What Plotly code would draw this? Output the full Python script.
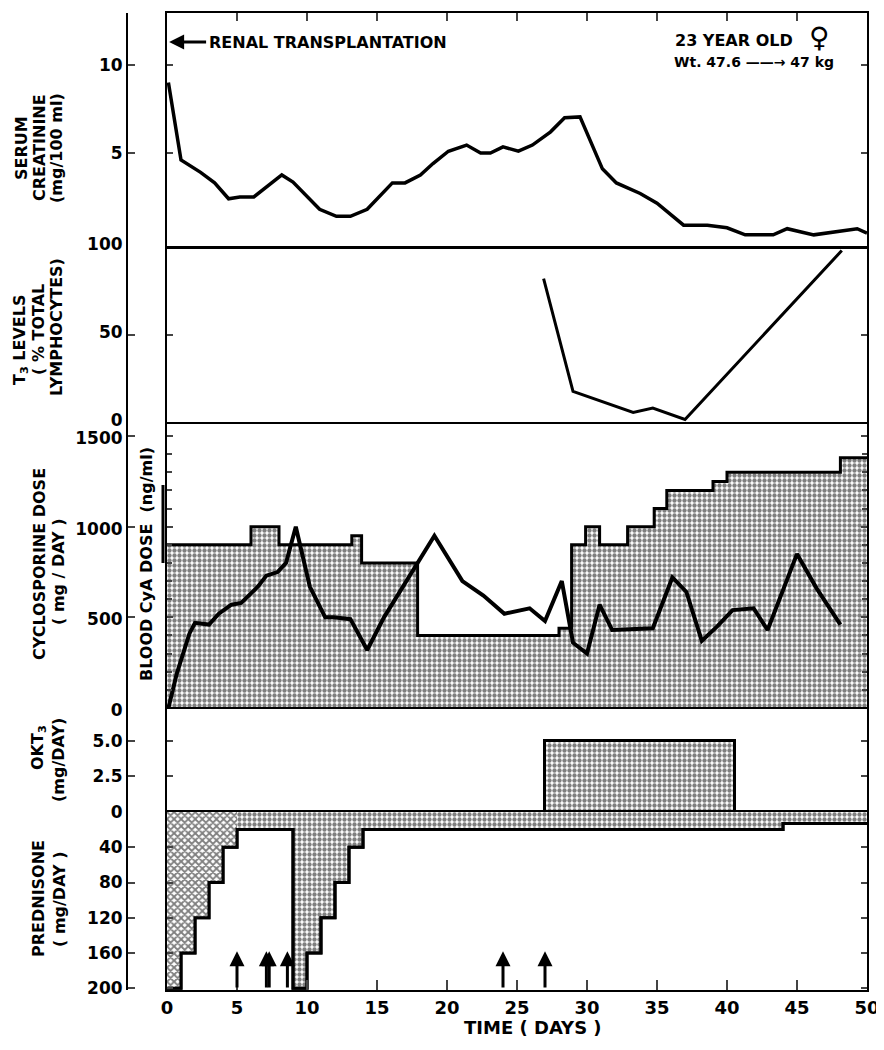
import plotly.graph_objects as go

# serum creatinine (mg/100 ml)
creat_days = [0.1, 1.0, 2.4, 3.4, 4.4, 5.2, 6.2, 8.2, 9.0, 10.9, 12.1, 13.1, 14.3, 16.1, 17.0, 18.1,
              19.0, 20.1, 21.4, 22.4, 23.1, 24.0, 25.1, 26.1, 27.4, 28.4, 29.5, 31.1, 32.1, 33.8,
              35.0, 36.9, 38.6, 40.0, 41.3, 43.3, 44.3, 46.2, 49.3, 50.0]
creat_vals = [9.0, 4.6, 3.9, 3.3, 2.4, 2.5, 2.5, 3.75, 3.35, 1.8, 1.4, 1.4, 1.8, 3.3, 3.3, 3.75,
              4.4, 5.1, 5.45, 5.0, 5.0, 5.35, 5.1, 5.45, 6.2, 7.0, 7.05, 4.1, 3.3, 2.7,
              2.15, 0.9, 0.9, 0.75, 0.35, 0.35, 0.7, 0.35, 0.7, 0.45]

# T3 levels (% total lymphocytes)
t3_days = [26.9, 29.0, 33.3, 34.7, 37.0, 48.2]
t3_vals = [82, 18, 6, 8.5, 2, 98]

# cyclosporine dose (mg/day), step changes
cya_days = [0, 6.0, 8.0, 13.2, 13.9, 17.9, 28.0, 28.9, 29.9, 30.9, 32.9, 34.8, 35.7, 39.0, 40.0, 48.1, 50]
cya_dose = [900, 1000, 900, 950, 800, 400, 440, 900, 1000, 900, 1000, 1100, 1200, 1250, 1300, 1380, 1380]

# blood CyA level (ng/ml)
blood_days = [0.1, 0.7, 1.6, 2.0, 3.0, 3.7, 4.6, 5.3, 6.5, 7.1, 7.9, 8.5, 9.2, 10.2, 11.3, 11.9,
              13.1, 14.3, 15.5, 17.8, 19.1, 21.1, 22.6, 24.1, 25.9, 27.0, 28.2, 29.0, 30.0, 30.9,
              31.8, 34.7, 36.1, 37.1, 38.2, 39.3, 40.4, 41.9, 42.9, 45.0, 46.4, 48.1]
blood_vals = [0, 190, 410, 470, 460, 520, 570, 580, 670, 730, 750, 800, 1000, 670, 500, 500,
              490, 320, 500, 790, 950, 700, 620, 520, 550, 480, 700, 360, 300, 570,
              430, 440, 720, 640, 370, 450, 540, 550, 430, 850, 660, 460]

# OKT3 course
okt3_start = 27.0
okt3_end = 40.6
okt3_dose = 5.0

# prednisone (mg/day), step changes
pred_days = [0, 1, 2, 3, 4, 5, 9, 10, 11, 12, 13, 14, 44, 50]
pred_dose = [200, 160, 120, 80, 40, 20, 200, 160, 120, 80, 40, 20, 13, 13]
hatch_end = 5  # first taper drawn with cross hatch

# rejection episodes (arrows)
arrow_days = [5.0, 7.1, 7.3, 8.6, 24.0, 27.0]

FONT = "DejaVu Sans"
W, H = 884, 1050
OFF = 8  # page body margin
ML, MR, MT, MB = 127 - OFF, 17 + OFF, 13 - OFF, 60 + OFF
PW, PH = W - ML - MR, H - MT - MB


def px_x(p):
    return (p - OFF - ML) / PW


def px_y(p):
    return (MT + PH - (p - OFF)) / PH


xdom = [px_x(167), 1.0]
edges = [13, 247, 423, 708, 812, 990]
ranges = [[-0.34, 12.95], [0, 100], [0, 1572], [0, 7.3], [202, 0]]
tickvals = [[5, 10], [0, 50, 100], [0, 500, 1000, 1500], [0, 2.5, 5], [40, 80, 120, 160, 200]]
ticktext = [["5", "10"], ["0", "50", "100"], ["0", "500", "1000", "1500"], ["0", "2.5", "5.0"],
            ["40", "80", "120", "160", "200"]]
labelshift = [0, -3, 2, 0, 0]
xline = [2, 1.2, 1.2, 1.2, 2]

fig = go.Figure()

dots = dict(shape=".", fgcolor="black", bgcolor="white", size=5, solidity=0.6)

fig.add_trace(go.Scatter(x=creat_days, y=creat_vals, mode="lines", xaxis="x", yaxis="y",
                         line=dict(color="black", width=3.5)))
fig.add_trace(go.Scatter(x=t3_days, y=t3_vals, mode="lines", xaxis="x2", yaxis="y2",
                         line=dict(color="black", width=3)))
fig.add_trace(go.Scatter(x=cya_days, y=cya_dose, mode="lines", xaxis="x3", yaxis="y3",
                         line=dict(color="black", width=3, shape="hv"), fill="tozeroy",
                         fillcolor="white", fillpattern=dots))
fig.add_trace(go.Scatter(x=blood_days, y=blood_vals, mode="lines", xaxis="x3", yaxis="y3",
                         line=dict(color="black", width=4)))
fig.add_trace(go.Bar(x=[(okt3_start + okt3_end) / 2], y=[okt3_dose], width=[okt3_end - okt3_start],
                     xaxis="x4", yaxis="y4",
                     marker=dict(color="white", line=dict(color="black", width=3), pattern=dots)))
fig.add_trace(go.Scatter(x=pred_days, y=pred_dose, mode="lines", xaxis="x5", yaxis="y5",
                         line=dict(color="black", width=3, shape="hv"), fill="tozeroy",
                         fillcolor="white", fillpattern=dots))
hx = [d for d in pred_days if d <= hatch_end]
hy = pred_dose[:len(hx) - 1] + [pred_dose[len(hx) - 2]]
fig.add_trace(go.Scatter(x=hx, y=hy, mode="lines", xaxis="x5", yaxis="y5",
                         line=dict(width=0, shape="hv"), fill="tozeroy", fillcolor="white",
                         fillpattern=dict(shape="x", fgcolor="black", bgcolor="white", size=5, solidity=0.6)))
fig.add_trace(go.Scatter(x=pred_days, y=pred_dose, mode="lines", xaxis="x5", yaxis="y5",
                         line=dict(color="black", width=3, shape="hv")))

layout = dict(width=W, height=H, margin=dict(l=ML, r=MR, t=MT, b=MB, autoexpand=False),
              showlegend=False, plot_bgcolor="white", paper_bgcolor="white", bargap=0,
              font=dict(family=FONT, color="black"))

for i in range(5):
    n = "" if i == 0 else str(i + 1)
    dom = [px_y(edges[i + 1]), px_y(edges[i])]
    xa = dict(domain=xdom, range=[0, 50], anchor="y" + n, showline=True, linewidth=xline[i],
              linecolor="black", mirror=True, showgrid=False, zeroline=False,
              showticklabels=False, ticks="", automargin=False)
    if i == 0:
        xa.update(side="top", ticks="inside", ticklen=8, tickwidth=2, tickvals=list(range(5, 50, 5)))
    if i == 4:
        xa.update(ticks="inside", ticklen=10, tickwidth=2, tickvals=list(range(0, 55, 5)),
                  showticklabels=True, tickfont=dict(size=18, family=FONT, weight="bold"))
    layout["xaxis" + n] = xa
    ya = dict(domain=dom, range=ranges[i], anchor="x" + n, showline=True, linewidth=2,
              linecolor="black", mirror="ticks", ticks="inside", ticklen=6, tickwidth=2,
              tickvals=tickvals[i], showticklabels=False, showgrid=False, zeroline=False,
              automargin=False)
    if i == 2:
        ya["minor"] = dict(dtick=100, tick0=0, ticks="inside", ticklen=5, tickwidth=1.5)
    layout["yaxis" + n] = ya
    k = str(i + 6)
    layout["yaxis" + k] = dict(domain=dom, range=ranges[i], overlaying="y" + n, anchor="free",
                               position=0, side="left", showline=True, linewidth=2,
                               linecolor="black", ticks="inside", ticklen=7, tickwidth=2,
                               tickvals=tickvals[i], ticktext=ticktext[i], showgrid=False,
                               zeroline=False, automargin=False, ticklabelshift=labelshift[i],
                               tickfont=dict(size=17, family=FONT, weight="bold"))
    fig.add_trace(go.Scatter(x=[None], y=[None], xaxis="x" + n, yaxis="y" + k, mode="markers",
                             hoverinfo="skip"))

fig.update_layout(**layout)

ann = []


def label(text, x, y, size=16, angle=-90, anchor="center"):
    ann.append(dict(text=text, x=px_x(x), y=px_y(y), xref="paper", yref="paper", showarrow=False,
                    textangle=angle, xanchor=anchor, yanchor="middle",
                    font=dict(size=size, family=FONT, color="black", weight="bold")))


label("SERUM", 21, 148)
label("CREATININE", 39, 148)
label("(mg/100 ml)", 56, 148)
label("T<sub>3</sub> LEVELS", 20, 340)
label("( % TOTAL", 38, 330)
label("LYMPHOCYTES)", 56, 327)
label("CYCLOSPORINE DOSE", 39, 564)
label("( mg / DAY )", 59, 572)
label("BLOOD CyA DOSE  (ng/ml)", 146, 564)
label("OKT<sub>3</sub>", 38, 748)
label("(mg/DAY)", 58, 760)
label("PREDNISONE", 38, 899)
label("( mg/DAY )", 59, 900)
label("TIME ( DAYS )", 533, 1028, size=18, angle=0)
label("RENAL TRANSPLANTATION", 207, 43, angle=0, anchor="left")
label("23 YEAR OLD", 795, 41, angle=0, anchor="right")
label("♀", 819, 38, size=28, angle=0)
label("Wt. 47.6 ——→ 47 kg", 836, 62, size=14, angle=0, anchor="right")

ann.append(dict(text="", x=0.15, y=11.3, xref="x", yref="y", ax=2.9, ay=11.3, axref="x", ayref="y",
                showarrow=True, arrowhead=2, arrowsize=1, arrowwidth=3, arrowcolor="black"))
for d in arrow_days:
    ann.append(dict(text="", x=d, y=158, xref="x5", yref="y5", ax=d, ay=201, axref="x5", ayref="y5",
                    showarrow=True, arrowhead=2, arrowsize=1, arrowwidth=3, arrowcolor="black"))

fig.update_layout(annotations=ann,
                  shapes=[dict(type="line", xref="paper", yref="paper", x0=px_x(163), x1=px_x(163),
                               y0=px_y(485), y1=px_y(563), line=dict(color="black", width=3))])

fig.write_html("out.html")
